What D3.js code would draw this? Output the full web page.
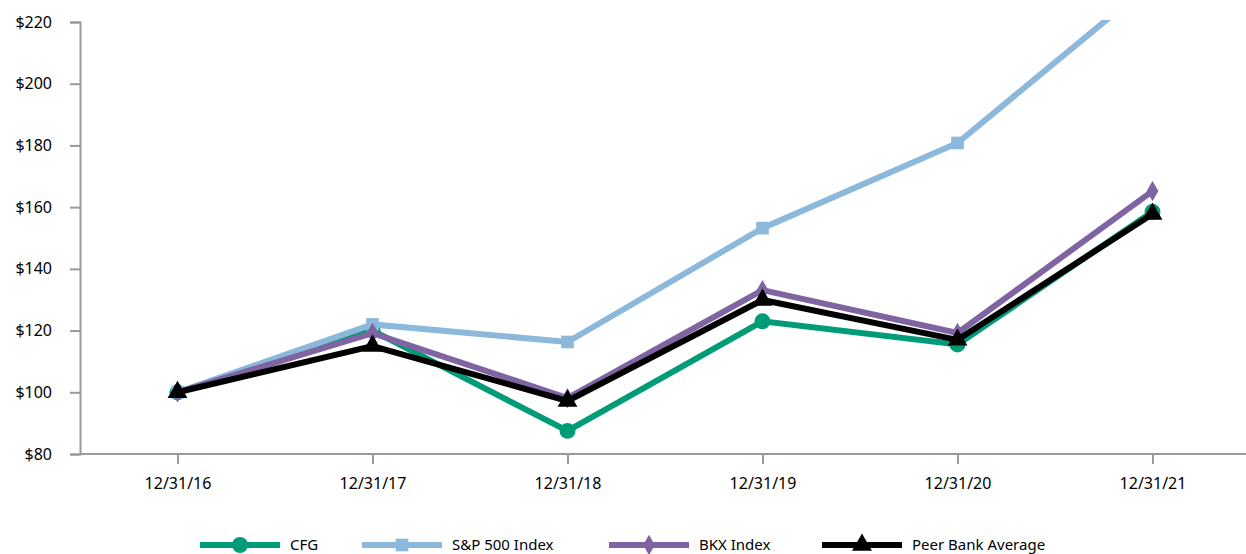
<!DOCTYPE html>
<html>
  <head>
    <meta charset="utf-8" />
    <title>Cumulative Total Return</title>
    <script src="https://d3js.org/d3.v7.min.js"></script>
    <style>
      body { margin: 0; background: #fff; }
      text { font-family: "Noto Sans", "DejaVu Sans", sans-serif; }
    </style>
  </head>
  <body>
    <svg id="chart" width="1246" height="554"></svg>

    <script>
      var dates = ["12/31/16", "12/31/17", "12/31/18", "12/31/19", "12/31/20", "12/31/21"];
      var yTicks = [80, 100, 120, 140, 160, 180, 200, 220];

      var cfg = [100, 120, 87.5, 123, 115.5, 158.5];
      var sp500 = [100, 122, 116.3, 153.2, 180.8, 233];
      var bkx = [100, 119.2, 98.1, 133.1, 119.2, 165.2];
      var peer = [100, 115, 97.2, 129.9, 117, 157.8];

      var series = [
        { name: "CFG", values: cfg, color: "#009b77", marker: "circle" },
        { name: "S&P 500 Index", values: sp500, color: "#8cb8db", marker: "square" },
        { name: "BKX Index", values: bkx, color: "#8064a2", marker: "diamond" },
        { name: "Peer Bank Average", values: peer, color: "#000000", marker: "triangle" }
      ];

      var svg = d3.select("#chart");

      var x = d3.scalePoint().domain(dates).range([80, 1250]).padding(0.5);
      var y = d3.scaleLinear().domain([80, 220]).range([454, 22]);

      // clip so the S&P line runs off the top like the original
      svg.append("defs").append("clipPath").attr("id", "plot")
        .append("rect").attr("x", 80).attr("y", 20).attr("width", 1170).attr("height", 440);

      // y axis
      var yAxis = svg.append("g")
        .attr("transform", "translate(80,0)")
        .call(d3.axisLeft(y).tickValues(yTicks).tickSize(10).tickPadding(18)
          .tickFormat(function (d) { return "$" + d; }));
      yAxis.select(".domain").attr("stroke", "#999").attr("stroke-width", 2);
      yAxis.selectAll(".tick line").attr("stroke", "#999").attr("stroke-width", 2);
      yAxis.selectAll("text").attr("font-size", 16).attr("fill", "#000");

      // x axis
      var xAxis = svg.append("g")
        .attr("transform", "translate(0,454)")
        .call(d3.axisBottom(x).tickSizeInner(10).tickSizeOuter(0).tickPadding(14));
      xAxis.select(".domain").attr("stroke", "#999").attr("stroke-width", 2)
        .attr("d", "M80,0H1246");
      xAxis.selectAll(".tick line").attr("stroke", "#999").attr("stroke-width", 2);
      xAxis.selectAll("text").attr("font-size", 16).attr("fill", "#000");

      var line = d3.line()
        .x(function (d, i) { return x(dates[i]); })
        .y(function (d) { return y(d); });

      var symbols = {
        circle: d3.symbol().type(d3.symbolCircle).size(200),
        square: d3.symbol().type(d3.symbolSquare).size(160),
        diamond: d3.symbol().type(d3.symbolDiamond).size(120),
        triangle: d3.symbol().type(d3.symbolTriangle).size(170)
      };

      var plot = svg.append("g").attr("clip-path", "url(#plot)");

      series.forEach(function (s) {
        var g = plot.append("g");
        g.append("path")
          .datum(s.values)
          .attr("d", line)
          .attr("fill", "none")
          .attr("stroke", s.color)
          .attr("stroke-width", 6);
        g.selectAll("path.mark")
          .data(s.values)
          .enter()
          .append("path")
          .attr("class", "mark")
          .attr("d", symbols[s.marker])
          .attr("transform", function (d, i) {
            return "translate(" + x(dates[i]) + "," + y(d) + ")";
          })
          .attr("fill", s.color);
      });

      // legend (sits at the very bottom edge, as in the original)
      var legendX = [200, 362, 609, 822];
      var legend = svg.selectAll("g.legend")
        .data(series)
        .enter()
        .append("g")
        .attr("class", "legend")
        .attr("transform", function (d, i) { return "translate(" + legendX[i] + ",545)"; });
      legend.append("line")
        .attr("x1", 0).attr("x2", 80)
        .attr("stroke", function (d) { return d.color; })
        .attr("stroke-width", 6);
      legend.append("path")
        .attr("transform", "translate(40,0)")
        .attr("d", function (d) { return symbols[d.marker](); })
        .attr("fill", function (d) { return d.color; });
      legend.append("text")
        .attr("x", 90)
        .attr("y", 5)
        .attr("font-size", 15)
        .text(function (d) { return d.name; });
    </script>
  </body>
</html>
